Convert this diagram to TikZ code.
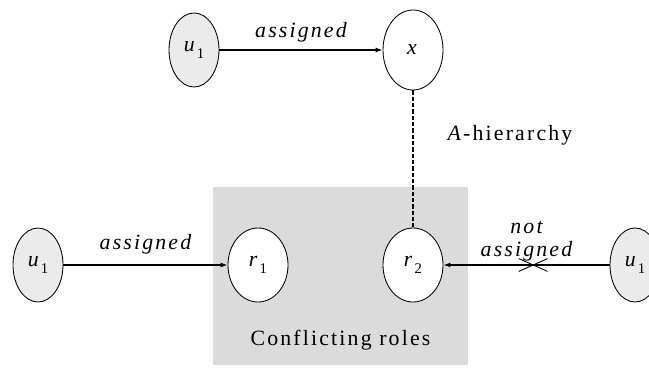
\documentclass[tikz,border=0pt]{standalone}
\usepackage{fontspec}
\setmainfont{Liberation Serif}[LetterSpace=10]
\usetikzlibrary{shapes.geometric, arrows.meta, positioning, calc}

\newcommand{\usr}[2]{\textit{#1}\raisebox{-0.65ex}{\fontsize{10.5}{12}\selectfont #2}}

\begin{document}
\begin{tikzpicture}[
    every node/.style={font=\fontsize{15.5}{18}\selectfont},
    ent/.style={ellipse, draw, line width=0.6pt, inner sep=0pt,
                minimum width=1.5cm, minimum height=1.85cm, fill=white},
    user/.style={ent, minimum width=1.25cm, fill=black!8},
    arr/.style={-{Latex[length=5pt,width=3.5pt]}, line width=0.9pt},
    lbl/.style={font=\fontsize{15.5}{16.5}\selectfont\itshape, inner sep=1pt},
    rolebox/.style={rectangle, fill=black!14, inner sep=0pt,
                    minimum width=6.375cm, minimum height=4.45cm}
]
\useasboundingbox (0,0) rectangle (16.225,9.175);

% shaded group behind the two roles
\node[rolebox] (conflict) at (8.5125, 2.275) {};
\node[above=0.25cm] (conflictlbl) at (conflict.south) {Conflicting roles};

\node[user] (utop)   at (4.85, 7.925)   {\usr{u}{1}};
\node[ent, minimum height=2.0cm] (x) at (10.325, 7.925) {\textit{x}};
\node[ent]  (r1)     at (6.45, 2.55)    {\usr{r}{1}};
\node[ent]  (r2)     at (10.325, 2.55)  {\usr{r}{2}};
\node[user] (uleft)  at (0.95, 2.55)    {\usr{u}{1}};
\node[user] (uright) at (15.875, 2.55)  {\usr{u}{1}};

\draw[arr] (utop)  -- node[lbl, above=4pt]{assigned} (x);
\draw[arr] (uleft) -- node[lbl, above=6pt]{assigned} (r1);
\draw[line width=0.9pt, dash pattern=on 3pt off 1.5pt] (x) -- (r2);
\draw[arr] (uright) -- node[lbl, above=1pt, align=center]{not\\assigned}
    coordinate[pos=0.46] (cut) (r2);

% crossed-out assignment
\draw[line width=0.6pt] ($(cut)+(-0.36,0.16)$) -- ($(cut)+(0.36,-0.16)$);
\draw[line width=0.6pt] ($(cut)+(-0.36,-0.16)$) -- ($(cut)+(0.36,0.16)$);

\node (hier) at (12.75, 5.8) {\textit{A}-hierarchy};
\end{tikzpicture}
\end{document}
